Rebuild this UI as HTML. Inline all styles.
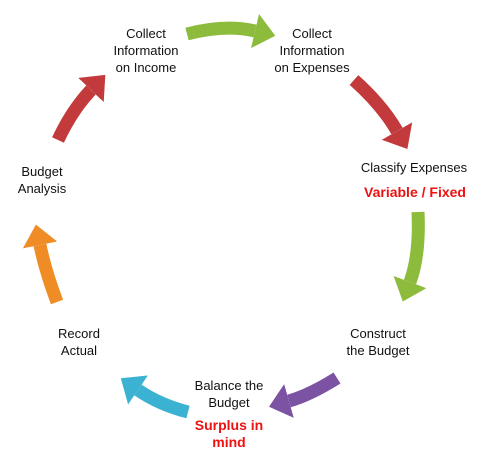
<!DOCTYPE html>
<html><head><meta charset="utf-8"><style>
html,body{margin:0;padding:0;background:#fff;width:480px;height:450px;overflow:hidden}
svg{display:block}
text{font-family:"Liberation Sans",sans-serif;font-size:13px;fill:#111;text-anchor:middle}
.r{fill:#ee1111;font-weight:bold;font-size:14px}
</style></head><body>
<svg width="480" height="450" viewBox="0 0 480 450">
<defs>
<marker id="hg" viewBox="0 0 10 10" refX="0" refY="5" markerWidth="1.6" markerHeight="2.7" orient="auto" preserveAspectRatio="none" markerUnits="strokeWidth"><path d="M0,0 L10,5 L0,10 z" fill="#8dbb3c"/></marker>
<marker id="hr" viewBox="0 0 10 10" refX="0" refY="5" markerWidth="1.6" markerHeight="2.7" orient="auto" preserveAspectRatio="none" markerUnits="strokeWidth"><path d="M0,0 L10,5 L0,10 z" fill="#c23a3c"/></marker>
<marker id="hp" viewBox="0 0 10 10" refX="0" refY="5" markerWidth="1.6" markerHeight="2.7" orient="auto" preserveAspectRatio="none" markerUnits="strokeWidth"><path d="M0,0 L10,5 L0,10 z" fill="#7c52a3"/></marker>
<marker id="hc" viewBox="0 0 10 10" refX="0" refY="5" markerWidth="1.6" markerHeight="2.7" orient="auto" preserveAspectRatio="none" markerUnits="strokeWidth"><path d="M0,0 L10,5 L0,10 z" fill="#3bb2d2"/></marker>
<marker id="ho" viewBox="0 0 10 10" refX="0" refY="5" markerWidth="1.6" markerHeight="2.7" orient="auto" preserveAspectRatio="none" markerUnits="strokeWidth"><path d="M0,0 L10,5 L0,10 z" fill="#f08c26"/></marker>
</defs>
<g fill="none" stroke-width="13">
<path d="M187,34 Q225,24 255,31" stroke="#8dbb3c" marker-end="url(#hg)"/>
<path d="M354,80 Q382,105 397,131" stroke="#c23a3c" marker-end="url(#hr)"/>
<path d="M418,212 Q420,255 410,282" stroke="#8dbb3c" marker-end="url(#hg)"/>
<path d="M337,378 Q310,395 289,401" stroke="#7c52a3" marker-end="url(#hp)"/>
<path d="M188,412 Q160,405 138,390" stroke="#3bb2d2" marker-end="url(#hc)"/>
<path d="M57,302 Q45,270 40,245" stroke="#f08c26" marker-end="url(#ho)"/>
<path d="M58,140 Q72,110 91,90" stroke="#c23a3c" marker-end="url(#hr)"/>
</g>
<text x="146" y="38">Collect</text>
<text x="146" y="55">Information</text>
<text x="146" y="72">on Income</text>
<text x="312" y="38">Collect</text>
<text x="312" y="55">Information</text>
<text x="312" y="72">on Expenses</text>
<text x="414" y="172">Classify Expenses</text>
<text class="r" x="415" y="197">Variable / Fixed</text>
<text x="378" y="338">Construct</text>
<text x="378" y="355">the Budget</text>
<text x="229" y="390">Balance the</text>
<text x="229" y="407">Budget</text>
<text class="r" x="229" y="430">Surplus in</text>
<text class="r" x="229" y="447">mind</text>
<text x="79" y="338">Record</text>
<text x="79" y="355">Actual</text>
<text x="42" y="176">Budget</text>
<text x="42" y="193">Analysis</text>
</svg>
</body></html>
